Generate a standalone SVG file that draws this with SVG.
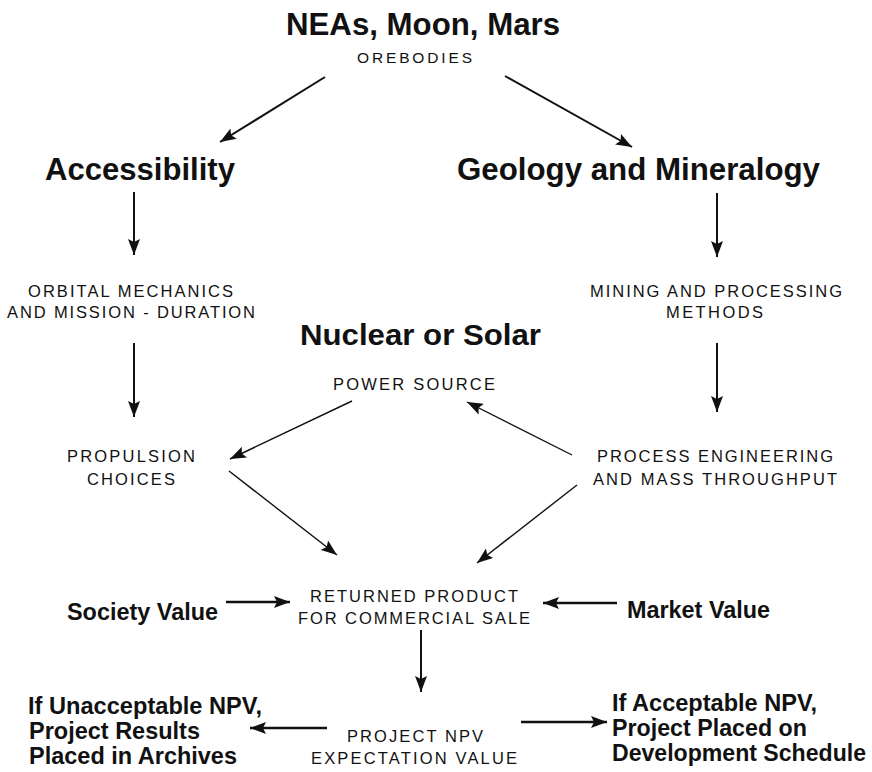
<svg xmlns="http://www.w3.org/2000/svg" width="872" height="772" viewBox="0 0 872 772">
<style>
  .h { font-family: "Liberation Sans", Arial, sans-serif; font-weight: bold; font-size: 31px; fill: #111; text-anchor: middle; }
  .s { font-family: "Liberation Sans", Arial, sans-serif; font-size: 16.5px; fill: #111; text-anchor: middle; }
  .b { font-family: "Liberation Sans", Arial, sans-serif; font-weight: bold; font-size: 24px; fill: #111; }
  .c { fill: none; stroke: #111; stroke-width: 2; }
  .thin { stroke-width: 1.4; }
  .thick { stroke-width: 2.6; }
</style>
<defs>
  <marker id="ah" markerUnits="userSpaceOnUse" markerWidth="17" markerHeight="12" refX="16" refY="6" orient="auto">
    <path d="M0,0 L16,6 L0,12 L3,6 z" fill="#111"/>
  </marker>
</defs>
<rect width="872" height="772" fill="#fff"/>

<g id="orebodies">
  <text class="h" x="423" y="35" textLength="274" lengthAdjust="spacingAndGlyphs">NEAs, Moon, Mars</text>
  <text class="s" x="414.5" y="63" style="font-size:15.5px" textLength="115" lengthAdjust="spacing">OREBODIES</text>
</g>
<g id="accessibility">
  <text class="h" x="140" y="180" textLength="190" lengthAdjust="spacingAndGlyphs">Accessibility</text>
</g>
<g id="geology">
  <text class="h" x="638.5" y="180" textLength="363" lengthAdjust="spacingAndGlyphs">Geology and Mineralogy</text>
</g>
<g id="orbital">
  <text class="s" x="130.5" y="297" textLength="205" lengthAdjust="spacing">ORBITAL MECHANICS</text>
  <text class="s" x="131" y="318" textLength="248" lengthAdjust="spacing">AND MISSION - DURATION</text>
</g>
<g id="mining">
  <text class="s" x="716" y="297" textLength="252" lengthAdjust="spacing">MINING AND PROCESSING</text>
  <text class="s" x="714.5" y="318" textLength="97" lengthAdjust="spacing">METHODS</text>
</g>
<g id="power">
  <text class="h" x="420.5" y="345" style="font-size:30px" textLength="241" lengthAdjust="spacingAndGlyphs">Nuclear or Solar</text>
  <text class="s" x="414" y="390" textLength="162" lengthAdjust="spacing">POWER SOURCE</text>
</g>
<g id="propulsion">
  <text class="s" x="131" y="462" textLength="128" lengthAdjust="spacing">PROPULSION</text>
  <text class="s" x="131" y="485" textLength="88" lengthAdjust="spacing">CHOICES</text>
</g>
<g id="process">
  <text class="s" x="715" y="462" textLength="236" lengthAdjust="spacing">PROCESS ENGINEERING</text>
  <text class="s" x="715" y="485" textLength="244" lengthAdjust="spacing">AND MASS THROUGHPUT</text>
</g>
<g id="returned">
  <text class="s" x="414" y="602" textLength="208" lengthAdjust="spacing">RETURNED PRODUCT</text>
  <text class="s" x="414" y="624" textLength="232" lengthAdjust="spacing">FOR COMMERCIAL SALE</text>
</g>
<g id="society">
  <text class="b" x="67" y="620" textLength="151" lengthAdjust="spacingAndGlyphs">Society Value</text>
</g>
<g id="market">
  <text class="b" x="627" y="618" textLength="143" lengthAdjust="spacingAndGlyphs">Market Value</text>
</g>
<g id="npv">
  <text class="s" x="415" y="742" textLength="136" lengthAdjust="spacing">PROJECT NPV</text>
  <text class="s" x="414" y="764" textLength="206" lengthAdjust="spacing">EXPECTATION VALUE</text>
</g>
<g id="unacceptable">
  <text class="b" x="28" y="714" textLength="234" lengthAdjust="spacingAndGlyphs">If Unacceptable NPV,</text>
  <text class="b" x="29" y="739" textLength="171" lengthAdjust="spacingAndGlyphs">Project Results</text>
  <text class="b" x="29" y="764" textLength="208" lengthAdjust="spacingAndGlyphs">Placed in Archives</text>
</g>
<g id="acceptable">
  <text class="b" x="612" y="711" textLength="205" lengthAdjust="spacingAndGlyphs">If Acceptable NPV,</text>
  <text class="b" x="612" y="736" textLength="195" lengthAdjust="spacingAndGlyphs">Project Placed on</text>
  <text class="b" x="612" y="761" style="font-size:23px" textLength="254" lengthAdjust="spacingAndGlyphs">Development Schedule</text>
</g>

<g id="connectors">
  <line class="c" x1="325" y1="77" x2="220" y2="142" marker-end="url(#ah)"/>
  <line class="c" x1="505" y1="76" x2="632" y2="147" marker-end="url(#ah)"/>
  <line class="c" x1="134" y1="192" x2="134" y2="255" marker-end="url(#ah)"/>
  <line class="c" x1="717" y1="193" x2="717" y2="257" marker-end="url(#ah)"/>
  <line class="c" x1="134" y1="343" x2="134" y2="417" marker-end="url(#ah)"/>
  <line class="c" x1="717" y1="343" x2="717" y2="412" marker-end="url(#ah)"/>
  <line class="c thin" x1="352" y1="401" x2="230" y2="459" marker-end="url(#ah)"/>
  <line class="c thin" x1="572" y1="455" x2="467" y2="402" marker-end="url(#ah)"/>
  <line class="c thin" x1="229" y1="471" x2="337" y2="555" marker-end="url(#ah)"/>
  <line class="c thin" x1="577" y1="485" x2="477" y2="563" marker-end="url(#ah)"/>
  <line class="c thick" x1="226" y1="602" x2="290" y2="602" marker-end="url(#ah)"/>
  <line class="c thick" x1="617" y1="603" x2="543" y2="603" marker-end="url(#ah)"/>
  <line class="c" x1="421" y1="630" x2="421" y2="692" marker-end="url(#ah)"/>
  <line class="c thick" x1="327" y1="728" x2="250" y2="728" marker-end="url(#ah)"/>
  <line class="c thick" x1="521" y1="722" x2="607" y2="722" marker-end="url(#ah)"/>
</g>
</svg>
